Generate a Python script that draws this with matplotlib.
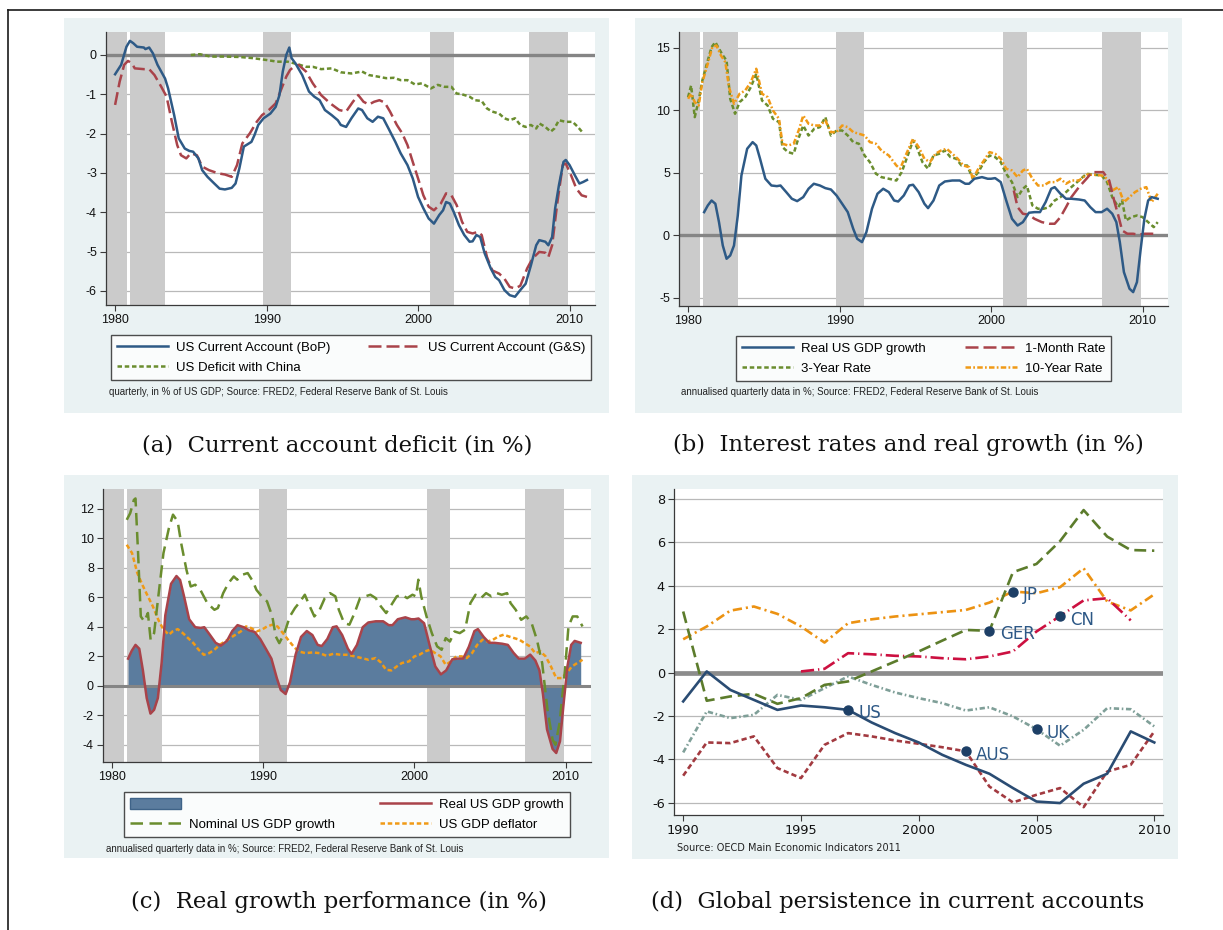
import matplotlib
matplotlib.use("Agg")
import matplotlib.pyplot as plt
from matplotlib.patches import Rectangle, Patch
from matplotlib.lines import Line2D

plt.rcParams['font.family'] = ['Liberation Sans', 'DejaVu Sans']
plt.rcParams['axes.unicode_minus'] = False

# ---- panel (a): current account, % of GDP
bop_yr = [1980.0,1980.4,1980.75,1980.98,1981.2,1981.45,1981.9,1982.0,1982.25,1982.5,
          1982.8,1983.3,1983.5,1983.9,1984.2,1984.6,1984.9,1985.15,1985.5,1985.75,
          1986.1,1986.55,1986.9,1987.25,1987.7,1987.95,1988.2,1988.5,1989.0,1989.2,
          1989.45,1989.8,1990.25,1990.6,1990.85,1991.07,1991.3,1991.5,1991.65,1991.9,
          1992.35,1992.8,1993.15,1993.5,1993.85,1994.3,1994.7,1994.9,1995.25,1995.6,
          1996.05,1996.3,1996.65,1997.0,1997.35,1997.7,1998.05,1998.5,1998.85,1999.3,
          1999.65,2000.0,2000.35,2000.7,2001.05,2001.4,2001.65,2001.85,2002.1,2002.35,
          2002.7,2003.05,2003.4,2003.6,2003.85,2004.1,2004.4,2004.8,2005.1,2005.35,
          2005.7,2006.05,2006.4,2006.75,2007.1,2007.45,2007.8,2008.0,2008.4,2008.6,
          2008.85,2009.05,2009.3,2009.6,2009.75,2010.0,2010.35,2010.65,2010.9,2011.15]
bop = [-0.49,-0.25,0.21,0.36,0.30,0.21,0.19,0.15,0.19,0.04,
       -0.25,-0.60,-0.85,-1.53,-2.12,-2.38,-2.44,-2.46,-2.63,-2.93,
       -3.10,-3.27,-3.40,-3.42,-3.38,-3.27,-2.89,-2.33,-2.21,-2.04,
       -1.78,-1.61,-1.49,-1.32,-1.02,-0.42,0.0,0.19,-0.08,-0.21,
       -0.51,-0.93,-1.06,-1.15,-1.40,-1.53,-1.66,-1.78,-1.83,-1.61,
       -1.36,-1.40,-1.61,-1.70,-1.57,-1.61,-1.87,-2.21,-2.50,-2.80,
       -3.14,-3.61,-3.90,-4.16,-4.29,-4.07,-3.95,-3.74,-3.78,-3.99,
       -4.33,-4.58,-4.75,-4.74,-4.58,-4.63,-5.05,-5.43,-5.65,-5.73,
       -5.98,-6.11,-6.15,-5.98,-5.82,-5.35,-4.84,-4.71,-4.75,-4.84,
       -4.63,-3.90,-3.31,-2.72,-2.67,-2.80,-3.06,-3.27,-3.23,-3.18]
gs_yr = [1980.0,1980.3,1980.6,1980.85,1981.1,1981.3,1981.9,1982.25,1982.6,1983.05,
         1983.4,1983.75,1984.1,1984.35,1984.7,1985.0,1985.4,1985.75,1986.2,1986.8,
         1987.25,1987.7,1988.05,1988.4,1988.9,1989.35,1989.7,1990.15,1990.6,1990.95,
         1991.3,1991.55,1991.8,1992.1,1992.6,1993.05,1993.6,1994.2,1994.8,1995.25,
         1995.7,1996.05,1996.4,1996.75,1997.1,1997.45,1997.8,1998.15,1998.6,1998.95,
         1999.3,1999.65,2000.0,2000.35,2000.7,2001.05,2001.5,2001.85,2002.2,2002.55,
         2002.9,2003.25,2003.6,2003.95,2004.2,2004.55,2004.9,2005.35,2005.7,2006.05,
         2006.4,2006.75,2007.2,2007.55,2008.0,2008.4,2008.6,2008.85,2009.2,2009.55,
         2009.75,2010.1,2010.45,2010.8,2011.15]
gs = [-1.27,-0.68,-0.25,-0.15,-0.21,-0.34,-0.36,-0.36,-0.51,-0.81,
      -1.06,-1.70,-2.29,-2.55,-2.63,-2.50,-2.55,-2.84,-2.93,-3.01,
      -3.04,-3.10,-2.80,-2.25,-1.99,-1.70,-1.53,-1.40,-1.23,-0.89,
      -0.55,-0.38,-0.30,-0.25,-0.42,-0.72,-1.02,-1.23,-1.40,-1.44,
      -1.19,-1.02,-1.19,-1.26,-1.19,-1.15,-1.21,-1.44,-1.78,-1.99,
      -2.29,-2.72,-3.14,-3.57,-3.86,-3.95,-3.78,-3.52,-3.57,-3.82,
      -4.24,-4.50,-4.54,-4.50,-4.58,-5.14,-5.48,-5.56,-5.69,-5.90,
      -5.94,-5.87,-5.43,-5.18,-5.01,-5.03,-5.14,-4.84,-3.74,-2.80,
      -2.76,-3.06,-3.40,-3.57,-3.61]
china_yr = [1985.0,1985.6,1986.3,1987.25,1988.2,1989.1,1990.05,1990.7,1991.4,1992.1,
            1992.6,1993.05,1993.6,1994.3,1994.9,1995.6,1996.3,1996.75,1997.35,1997.9,
            1998.4,1998.85,1999.3,1999.8,2000.25,2000.85,2001.3,2001.75,2002.2,2002.55,
            2002.9,2003.4,2003.75,2004.2,2004.55,2004.9,2005.35,2005.7,2006.05,2006.4,
            2006.75,2007.1,2007.45,2007.8,2008.0,2008.4,2008.75,2009.0,2009.3,2009.75,
            2010.2,2010.55,2010.9]
china = [0.0,0.02,-0.04,-0.04,-0.05,-0.08,-0.13,-0.17,-0.17,-0.24,
         -0.30,-0.30,-0.36,-0.34,-0.44,-0.47,-0.42,-0.51,-0.55,-0.59,
         -0.58,-0.64,-0.64,-0.75,-0.72,-0.85,-0.76,-0.81,-0.81,-0.98,
         -1.00,-1.06,-1.15,-1.17,-1.36,-1.44,-1.49,-1.61,-1.66,-1.61,
         -1.78,-1.83,-1.78,-1.87,-1.74,-1.83,-1.95,-1.87,-1.66,-1.70,
         -1.70,-1.83,-1.99]

# ---- panels (b), (c): growth and rates, annualised %
gdp_yr = [1981.06,1981.3,1981.55,1981.8,1982.04,1982.29,1982.54,1982.78,1983.03,1983.28,
          1983.52,1983.9,1984.26,1984.5,1984.75,1985.1,1985.5,1985.86,1986.1,1986.48,
          1986.85,1987.2,1987.6,1987.95,1988.3,1988.7,1989.06,1989.43,1989.8,1990.17,
          1990.54,1990.9,1991.16,1991.48,1991.77,1992.14,1992.5,1992.88,1993.25,1993.6,
          1993.87,1994.24,1994.6,1994.85,1995.22,1995.6,1995.84,1996.2,1996.58,1996.95,
          1997.44,1997.93,1998.3,1998.55,1998.9,1999.4,1999.78,2000.0,2000.27,2000.64,
          2001.0,2001.38,2001.75,2002.1,2002.5,2002.86,2003.23,2003.6,2003.97,2004.2,
          2004.58,2004.95,2005.3,2005.8,2006.18,2006.55,2006.9,2007.3,2007.66,2008.0,
          2008.27,2008.5,2008.77,2009.14,2009.38,2009.63,2009.88,2010.12,2010.37,2010.6,
          2011.0]
gdp = [1.84,2.37,2.77,2.51,1.04,-0.83,-1.89,-1.63,-0.83,1.57,
       4.77,6.91,7.44,7.17,6.11,4.51,3.97,3.92,3.97,3.44,
       2.91,2.72,3.04,3.71,4.11,3.97,3.76,3.65,3.17,2.51,
       1.84,0.51,-0.29,-0.56,0.24,2.11,3.31,3.71,3.44,2.77,
       2.69,3.17,3.97,4.03,3.44,2.51,2.16,2.77,3.97,4.29,
       4.37,4.37,4.11,4.11,4.51,4.64,4.51,4.51,4.56,4.24,
       2.77,1.31,0.77,1.04,1.79,1.84,1.84,2.64,3.71,3.84,
       3.31,2.91,2.91,2.85,2.77,2.24,1.84,1.84,2.11,1.71,
       1.04,-0.56,-2.96,-4.29,-4.56,-3.76,-1.09,1.31,2.77,3.04,
       2.91]
r3_yr = [1980.0,1980.2,1980.44,1980.7,1980.94,1981.3,1981.55,1981.8,1982.04,1982.3,
         1982.54,1982.78,1983.1,1983.4,1983.77,1984.14,1984.5,1984.88,1985.25,1985.6,
         1986.0,1986.23,1986.6,1986.97,1987.2,1987.6,1987.95,1988.33,1988.7,1989.06,
         1989.43,1989.8,1990.17,1990.54,1990.9,1991.28,1991.65,1992.0,1992.4,1992.76,
         1993.25,1993.75,1994.1,1994.5,1994.85,1995.1,1995.47,1995.84,1996.2,1996.58,
         1996.95,1997.32,1997.7,1998.05,1998.42,1998.8,1999.16,1999.53,1999.9,2000.27,
         2000.64,2001.0,2001.38,2001.75,2002.1,2002.36,2002.73,2003.1,2003.47,2003.84,
         2004.2,2004.58,2004.95,2005.3,2005.8,2006.3,2006.8,2007.3,2007.66,2008.0,
         2008.4,2008.65,2008.9,2009.26,2009.63,2010.0,2010.37,2010.74,2011.0]
r3 = [11.04,11.97,9.44,10.77,12.37,13.97,15.04,15.44,14.91,14.37,
      13.97,10.91,9.71,10.64,11.04,11.84,12.91,10.77,10.37,9.31,
      9.04,7.04,6.64,6.51,7.44,8.77,7.97,8.51,8.64,9.44,
      7.97,8.37,8.37,7.97,7.44,7.31,6.37,5.84,4.91,4.64,
      4.51,4.37,5.04,6.37,7.57,7.04,5.84,5.31,6.37,6.51,
      6.77,6.24,6.11,5.57,5.57,4.51,5.04,5.84,6.37,6.24,
      5.84,4.91,4.24,3.04,3.71,3.97,2.37,2.11,2.11,2.24,
      2.77,3.04,3.44,3.84,4.37,4.91,4.83,4.77,4.24,3.04,
      2.24,2.77,1.17,1.44,1.57,1.44,1.04,0.64,1.04]
r10_yr = [1980.0,1980.2,1980.44,1980.7,1980.94,1981.3,1981.6,1981.87,1982.17,1982.46,
          1982.7,1983.03,1983.4,1983.77,1984.14,1984.5,1984.88,1985.25,1985.6,1986.0,
          1986.23,1986.6,1986.97,1987.34,1987.6,1987.95,1988.33,1988.7,1989.06,1989.43,
          1989.8,1990.17,1990.54,1990.9,1991.28,1991.65,1992.0,1992.4,1992.76,1993.25,
          1993.75,1994.0,1994.36,1994.85,1995.22,1995.6,1995.96,1996.33,1996.7,1997.07,
          1997.44,1997.8,1998.17,1998.55,1998.8,1999.16,1999.53,1999.9,2000.27,2000.64,
          2001.0,2001.38,2001.75,2002.1,2002.36,2002.73,2003.1,2003.47,2003.84,2004.2,
          2004.58,2004.95,2005.3,2005.8,2006.3,2006.8,2007.3,2007.66,2008.0,2008.4,
          2008.77,2009.14,2009.5,2009.88,2010.25,2010.6,2011.0]
r10 = [10.91,11.31,10.64,10.37,12.24,13.71,15.04,15.17,14.37,13.84,
       11.84,10.51,11.31,11.57,12.24,13.31,11.31,11.04,9.97,9.31,
       7.31,7.17,7.31,8.51,9.57,8.91,8.77,8.77,9.17,8.24,
       8.24,8.77,8.64,8.24,8.11,7.97,7.44,7.31,6.77,6.37,
       5.57,5.31,6.37,7.71,7.04,6.11,5.84,6.51,6.77,6.91,
       6.51,6.11,5.57,5.44,4.51,5.31,5.97,6.64,6.51,6.11,
       5.31,5.17,4.64,5.17,5.31,4.51,3.97,3.97,4.24,4.24,
       4.51,4.11,4.37,4.37,4.83,4.83,4.77,4.51,3.57,3.84,
       2.64,3.04,3.44,3.71,3.84,2.64,3.31]
m1_yr = [2001.5,2001.75,2002.1,2002.5,2002.86,2003.35,2003.84,2004.2,2004.58,2004.95,
         2005.3,2005.8,2006.3,2006.67,2007.04,2007.4,2007.8,2008.15,2008.4,2008.65,
         2009.0,2009.38,2009.75,2010.12,2010.6,2011.0]
m1 = [3.57,2.24,1.71,1.63,1.31,1.04,0.91,0.91,1.44,2.24,
      3.04,3.84,4.51,5.04,5.04,5.04,4.37,2.64,1.57,0.37,
      0.11,0.11,0.03,0.11,0.11,0.08]
nom_yr = [1980.97,1981.2,1981.44,1981.55,1981.72,1981.9,1982.13,1982.37,1982.55,1982.78,
          1983.06,1983.4,1983.76,1984.03,1984.34,1984.57,1984.92,1985.2,1985.5,1985.84,
          1986.3,1986.77,1987.0,1987.35,1987.7,1988.05,1988.28,1988.63,1988.97,1989.32,
          1989.55,1989.9,1990.25,1990.6,1990.83,1991.06,1991.4,1991.76,1992.1,1992.45,
          1992.75,1993.03,1993.38,1993.73,1994.07,1994.42,1994.77,1995.0,1995.35,1995.7,
          1996.04,1996.4,1996.74,1997.09,1997.44,1997.78,1998.13,1998.48,1998.83,1999.17,
          1999.52,1999.87,2000.1,2000.26,2000.45,2000.8,2001.15,2001.5,2001.8,2002.07,
          2002.35,2002.65,2003.0,2003.35,2003.7,2004.04,2004.4,2004.74,2005.09,2005.44,
          2005.78,2006.13,2006.36,2006.7,2007.06,2007.4,2007.75,2008.1,2008.45,2008.8,
          2009.14,2009.33,2009.6,2009.96,2010.19,2010.47,2010.77,2011.12]
nom = [11.25,11.7,12.6,12.7,9.0,4.7,4.36,4.93,3.12,3.57,
       6.06,9.0,10.69,11.6,11.14,9.67,7.86,6.73,6.85,6.5,
       5.6,5.15,5.27,6.28,6.96,7.41,7.19,7.53,7.64,7.07,
       6.5,6.06,5.72,4.7,3.34,2.89,3.57,4.7,5.27,5.72,
       6.17,5.49,4.7,5.15,5.94,6.28,6.06,5.15,4.25,4.14,
       4.93,5.94,6.06,6.17,5.94,5.38,4.93,5.49,6.06,6.17,
       5.94,6.17,6.06,7.19,6.06,4.7,3.57,2.67,2.44,3.23,
       3.0,3.68,3.57,3.8,5.6,6.17,5.94,6.28,6.06,6.28,
       6.17,6.28,5.6,5.15,4.47,4.7,4.25,3.12,1.54,-1.63,
       -3.66,-4.0,-2.53,1.08,4.02,4.7,4.7,4.02]
defl_yr = [1980.97,1981.32,1981.67,1982.0,1982.37,1982.7,1983.06,1983.4,1983.76,1984.0,
           1984.34,1984.68,1985.03,1985.38,1985.73,1986.07,1986.42,1986.77,1987.12,1987.47,
           1987.81,1988.16,1988.51,1988.86,1989.2,1989.55,1989.9,1990.25,1990.6,1990.94,
           1991.3,1991.64,1992.0,1992.33,1992.8,1993.26,1993.73,1994.19,1994.65,1995.12,
           1995.58,1996.04,1996.5,1996.97,1997.44,1997.78,1998.13,1998.48,1998.83,1999.17,
           1999.64,2000.0,2000.33,2000.7,2001.03,2001.38,2001.73,2002.07,2002.42,2002.77,
           2003.12,2003.46,2003.81,2004.16,2004.5,2004.85,2005.2,2005.55,2005.9,2006.25,
           2006.6,2006.94,2007.29,2007.64,2007.99,2008.33,2008.68,2009.03,2009.38,2009.73,
           2010.07,2010.42,2010.77,2011.12]
defl = [9.56,9.0,7.64,6.85,6.06,5.38,4.47,3.8,3.46,3.68,
        3.84,3.57,3.23,2.89,2.44,2.1,2.21,2.44,2.78,3.0,
        3.23,3.46,3.68,4.02,3.91,3.68,3.8,4.02,4.14,4.02,
        3.57,3.12,2.67,2.33,2.21,2.26,2.21,2.03,2.17,2.1,
        2.1,1.99,1.88,1.76,1.88,1.58,1.08,1.04,1.31,1.54,
        1.65,1.99,2.1,2.33,2.44,2.21,1.99,1.42,1.65,1.99,
        1.99,1.88,2.21,2.78,3.12,3.0,3.12,3.34,3.46,3.34,
        3.23,3.12,2.89,2.67,2.21,2.33,1.99,1.31,0.52,0.52,
        0.86,1.31,1.54,1.76]

# recession shading (start, end)
recessions = [(1979.0, 1980.79), (1980.97, 1983.32), (1989.74, 1991.59),
              (2000.8, 2002.37), (2007.32, 2009.9)]

# ---- panel (d): annual current accounts
d_years = list(range(1990, 2011))
us = [-1.33,0.05,-0.8,-1.26,-1.72,-1.52,-1.6,-1.72,-2.3,-2.79,-3.22,-3.79,-4.25,-4.66,-5.32,-5.94,-6.01,-5.12,-4.66,-2.71,-3.22]
ger = [2.81,-1.3,-1.1,-0.98,-1.44,-1.18,-0.57,-0.41,0.05,0.51,0.97,1.47,1.96,1.92,4.62,5.0,6.05,7.48,6.26,5.64,5.61]
jp = [1.53,2.12,2.85,3.04,2.7,2.12,1.38,2.27,2.45,2.58,2.68,2.78,2.88,3.22,3.73,3.65,3.93,4.8,3.27,2.86,3.6]
cn_years = list(range(1995, 2010))
cn = [0.05,0.17,0.89,0.84,0.77,0.74,0.66,0.61,0.74,0.97,1.89,2.6,3.32,3.42,2.4]
uk = [-3.68,-1.79,-2.1,-1.95,-1.03,-1.26,-0.72,-0.18,-0.57,-0.92,-1.18,-1.41,-1.75,-1.6,-2.02,-2.61,-3.37,-2.64,-1.64,-1.69,-2.48]
aus = [-4.75,-3.22,-3.25,-2.94,-4.4,-4.86,-3.33,-2.79,-2.94,-3.13,-3.28,-3.44,-3.63,-5.25,-5.98,-5.63,-5.32,-6.2,-4.56,-4.25,-2.71]
d_labels = ["US", "GER", "JP", "CN", "UK", "AUS"]
d_label_years = [1997, 2003, 2004, 2006, 2005, 2002]

captions = ["(a)  Current account deficit (in %)",
            "(b)  Interest rates and real growth (in %)",
            "(c)  Real growth performance (in %)",
            "(d)  Global persistence in current accounts"]

W, H = 1223, 930
BG = "#eaf2f3"
BAND = "#cbcbcb"
GRID = "#b9b9b9"
NAVY = "#2e5a86"
MAROON = "#a9434a"
GREEN = "#6a8d2e"
ORANGE = "#f09a16"
LW = 1.8

fig = plt.figure(figsize=(W / 100, H / 100), dpi=100)


def fbox(x0, y0, x1, y1):
    return [x0 / W, 1 - y1 / H, (x1 - x0) / W, (y1 - y0) / H]


def background(x0, y0, x1, y1):
    b = fbox(x0, y0, x1, y1)
    fig.add_artist(Rectangle((b[0], b[1]), b[2], b[3], transform=fig.transFigure,
                             facecolor=BG, edgecolor="none", zorder=-5))


def setup(ax, xlim, ylim, xticks, yticks, fs, family):
    ax.set_xlim(xlim)
    ax.set_ylim(ylim)
    ax.set_xticks(xticks)
    ax.set_yticks(yticks)
    ax.set_xticklabels([str(t) for t in xticks], family=family)
    ax.set_yticklabels([str(t) for t in yticks], family=family)
    for s in ["top", "right"]:
        ax.spines[s].set_visible(False)
    for s in ["left", "bottom"]:
        ax.spines[s].set_color("#3a3a3a")
        ax.spines[s].set_linewidth(0.9)
    ax.tick_params(length=4, width=0.8, labelsize=fs, colors="#3a3a3a",
                   labelcolor="#111111", pad=2.5)
    for y in yticks:
        if y != 0:
            ax.axhline(y, color=GRID, lw=0.9, zorder=0.5)


def shade(ax):
    for a, b in recessions:
        ax.axvspan(a, b, color=BAND, lw=0, zorder=1)


def note(x, y, txt, family="Liberation Sans"):
    fig.text(x / W, 1 - y / H, txt, fontsize=7, va="center", ha="left",
             color="#222222", family=family)


def make_legend(handles, labels, x0, y0, x1, y1):
    leg = fig.legend(handles, labels, loc="upper left", bbox_to_anchor=fbox(x0, y0, x1, y1),
                     bbox_transform=fig.transFigure, mode="expand", ncol=2, fontsize=9.5,
                     frameon=True, fancybox=False, edgecolor="#222222", borderpad=0.45,
                     handlelength=3.9, handleheight=0.95, handletextpad=0.6,
                     labelspacing=0.5, borderaxespad=0, columnspacing=1.0)
    leg.get_frame().set_linewidth(1.0)
    return leg


xlim_q = (1979.4, 2011.68)
dash_long = (0, (5.2, 2.0))
dots = (0, (1.8, 1.1))
dash_dot = (0, (2.2, 0.9, 0.7, 0.9))

# ================= (a)
background(64, 18, 609, 413)
ax = fig.add_axes(fbox(106, 32, 595, 305))
setup(ax, xlim_q, (-6.36, 0.585), [1980, 1990, 2000, 2010], [0, -1, -2, -3, -4, -5, -6], 9, "Liberation Sans")
shade(ax)
ax.axhline(0, color="#858585", lw=2.4, zorder=2)
ax.plot(china_yr, china, color=GREEN, lw=LW, ls=dots, zorder=3)
ax.plot(gs_yr, gs, color=MAROON, lw=LW, ls=dash_long, zorder=3)
ax.plot(bop_yr, bop, color=NAVY, lw=LW, zorder=4)
make_legend([Line2D([], [], color=NAVY, lw=LW), Line2D([], [], color=GREEN, lw=LW, ls=dots),
             Line2D([], [], color=MAROON, lw=LW, ls=dash_long)],
            ["US Current Account (BoP)", "US Deficit with China", "US Current Account (G&S)"],
            111, 335, 591, 380)
note(109, 392, "quarterly, in % of US GDP; Source: FRED2, Federal Reserve Bank of St. Louis")

# ================= (b)
background(635, 18, 1182, 413)
ax = fig.add_axes(fbox(679, 32, 1168, 306))
setup(ax, xlim_q, (-5.67, 16.25), [1980, 1990, 2000, 2010], [-5, 0, 5, 10, 15], 9, "Liberation Sans")
shade(ax)
ax.axhline(0, color="#858585", lw=2.4, zorder=2)
ax.plot(r3_yr, r3, color=GREEN, lw=LW, ls=dots, zorder=3)
ax.plot(r10_yr, r10, color=ORANGE, lw=LW, ls=dash_dot, zorder=3)
ax.plot(m1_yr, m1, color=MAROON, lw=LW, ls=dash_long, zorder=3)
ax.plot(gdp_yr, gdp, color=NAVY, lw=LW, zorder=4)
make_legend([Line2D([], [], color=NAVY, lw=LW), Line2D([], [], color=GREEN, lw=LW, ls=dots),
             Line2D([], [], color=MAROON, lw=LW, ls=dash_long),
             Line2D([], [], color=ORANGE, lw=LW, ls=dash_dot)],
            ["Real US GDP growth", "3-Year Rate", "1-Month Rate", "10-Year Rate"],
            736, 336, 1111, 380)
note(681, 392, "annualised quarterly data in %; Source: FRED2, Federal Reserve Bank of St. Louis")

# ================= (c)
AREA = "#5b7c9e"
background(64, 475, 609, 858)
ax = fig.add_axes(fbox(103, 489, 591, 762))
setup(ax, xlim_q, (-5.17, 13.34), [1980, 1990, 2000, 2010], [-4, -2, 0, 2, 4, 6, 8, 10, 12], 9, "Liberation Sans")
shade(ax)
ax.fill_between(gdp_yr, 0, gdp, color=AREA, lw=0, zorder=2)
ax.axhline(0, color="#858585", lw=2.2, zorder=2.5)
ax.plot(defl_yr, defl, color=ORANGE, lw=LW, ls=dots, zorder=3)
ax.plot(nom_yr, nom, color=GREEN, lw=LW, ls=(0, (5.0, 2.6)), zorder=3)
ax.plot(gdp_yr, gdp, color=MAROON, lw=LW, zorder=4)
make_legend([Patch(facecolor=AREA, edgecolor="#3f6388", lw=1.0),
             Line2D([], [], color=GREEN, lw=LW, ls=(0, (5.0, 2.6))),
             Line2D([], [], color=MAROON, lw=LW),
             Line2D([], [], color=ORANGE, lw=LW, ls=dots)],
            ["", "Nominal US GDP growth", "Real US GDP growth", "US GDP deflator"],
            124, 792, 570, 837)
note(106, 849, "annualised quarterly data in %; Source: FRED2, Federal Reserve Bank of St. Louis")

# ================= (d)
background(632, 475, 1178, 859)
ax = fig.add_axes(fbox(674, 489, 1163, 815))
setup(ax, (1989.61, 2010.37), (-6.56, 8.45), [1990, 1995, 2000, 2005, 2010],
      [-6, -4, -2, 0, 2, 4, 6, 8], 9.3, "DejaVu Sans")
ax.axhline(0, color="#8c8c8c", lw=3.4, zorder=2)
series_d = {
    "UK": (d_years, uk, "#7f9f98", (0, (2.0, 1.0, 0.6, 1.0))),
    "AUS": (d_years, aus, "#a23a40", (0, (2.0, 1.2))),
    "JP": (d_years, jp, "#ec9212", (0, (3.5, 1.5, 0.8, 1.5))),
    "CN": (cn_years, cn, "#cc1040", (0, (5.0, 1.5, 0.5, 1.5))),
    "GER": (d_years, ger, "#5c7c2c", (0, (4.5, 2.2))),
    "US": (d_years, us, "#2a4c73", "-"),
}
for name, (xs, ys, col, ls) in series_d.items():
    ax.plot(xs, ys, color=col, lw=1.9, ls=ls, zorder=3)
for name, yr in zip(d_labels, d_label_years):
    xs, ys = series_d[name][0], series_d[name][1]
    yv = ys[xs.index(yr)]
    ax.plot([yr], [yv], "o", color="#1d3f66", ms=6.5, zorder=5)
    ax.annotate(name, (yr, yv), xytext=(7.5, -2.5), textcoords="offset points",
                ha="left", va="center", fontsize=12, color="#2d5886",
                family="DejaVu Sans", zorder=6)
note(677, 848, "Source: OECD Main Economic Indicators 2011", family="DejaVu Sans")

# ================= captions and frame
for (cx, cy), txt in zip([(337, 445), (908, 445), (339, 902), (898, 902)], captions):
    fig.text(cx / W, 1 - cy / H, txt, ha="center", va="center", fontsize=16.4,
             family="DejaVu Serif", color="#111111")

fig.add_artist(Line2D([8 / W, 1.0], [1 - 10 / H, 1 - 10 / H], transform=fig.transFigure,
                      color="#1a1a1a", lw=1.2))
fig.add_artist(Line2D([8 / W, 8 / W], [0.0, 1 - 10 / H], transform=fig.transFigure,
                      color="#1a1a1a", lw=1.2))

fig.savefig("out.png", dpi=100, facecolor="white")
